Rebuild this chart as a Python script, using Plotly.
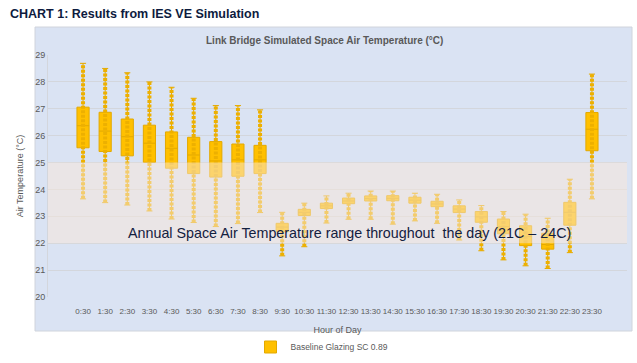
import plotly.graph_objects as go

hours = ["0:30", "1:30", "2:30", "3:30", "4:30", "5:30", "6:30", "7:30", "8:30", "9:30",
         "10:30", "11:30", "12:30", "13:30", "14:30", "15:30", "16:30", "17:30", "18:30",
         "19:30", "20:30", "21:30", "22:30", "23:30"]
q1 = [25.55, 25.41, 25.25, 25.01, 24.79, 24.59, 24.46, 24.49, 24.59, 22.43, 23.03, 23.29,
      23.47, 23.57, 23.58, 23.49, 23.36, 23.14, 22.78, 22.35, 21.91, 21.78, 22.67, 25.44]
median = [26.37, 26.17, 25.96, 25.72, 25.53, 25.28, 25.06, 25.10, 25.10, 22.60, 23.15, 23.39,
          23.57, 23.66, 23.67, 23.60, 23.46, 23.27, 22.98, 22.62, 22.25, 21.95, 23.15, 26.24]
q3 = [27.06, 26.87, 26.62, 26.39, 26.14, 25.94, 25.78, 25.69, 25.64, 22.74, 23.26, 23.49,
      23.68, 23.76, 23.77, 23.71, 23.56, 23.39, 23.18, 22.90, 22.65, 22.37, 23.52, 26.86]
maxs = [28.69, 28.50, 28.34, 28.00, 27.80, 27.39, 27.12, 27.12, 26.96, 23.15, 23.49, 23.76,
        23.86, 23.94, 23.94, 23.86, 23.82, 23.61, 23.40, 23.18, 23.08, 22.93, 24.38, 28.29]
mins = [23.65, 23.51, 23.42, 23.20, 22.90, 22.77, 22.62, 22.73, 23.14, 21.53, 21.87, 22.75,
        22.89, 22.89, 22.71, 22.83, 22.74, 22.12, 21.72, 21.38, 21.16, 21.06, 21.65, 23.65]
series_name = "Baseline Glazing SC 0.89"
band = [22, 25]
annotation_text = "Annual Space Air Temperature range throughout  the day (21C \u2013 24C)"

BASE = "Liberation Sans, Arial, sans-serif"

fig = go.Figure()

fig.add_trace(go.Box(
    x=hours, q1=q1, median=median, q3=q3, lowerfence=mins, upperfence=maxs,
    name=series_name, width=0.55,
    fillcolor="#FFC000", line=dict(color="#E3A900", width=1),
    showlegend=True,
))

# dotted data columns along the whiskers
dx, dy = [], []
for h, lo, hi in zip(hours, mins, maxs):
    dx += [h, h, None]
    dy += [lo, hi, None]
fig.add_trace(go.Scatter(
    x=dx, y=dy, mode="lines", showlegend=False, hoverinfo="skip",
    line=dict(color="#EDB000", width=4, dash="3px,1.5px"),
))

W, H = 637, 363
L, R, T, B = 48, 10, 55, 66
pw, ph = W - L - R, H - T - B

def px_x(p):
    return (p - L) / pw

def px_y(p):
    return (H - B - p) / ph

# blue chart area background
fig.add_shape(type="rect", xref="paper", yref="paper",
              x0=px_x(35), x1=px_x(632), y0=px_y(331), y1=px_y(27),
              fillcolor="#DAE3F3", line=dict(color="#D0D4DC", width=1), layer="below")

# comfort band overlay
fig.add_shape(type="rect", xref="paper", yref="y", x0=0, x1=1, y0=band[0], y1=band[1],
              fillcolor="rgb(249,231,218)", opacity=0.5, line=dict(width=0), layer="above")

fig.add_annotation(text=annotation_text, xref="paper", yref="y", x=px_x(349), y=22.38,
                   showarrow=False, xanchor="center", yanchor="middle",
                   font=dict(family=BASE, size=14.3, color="#13203F"))

fig.add_annotation(text="<b>CHART 1: Results from IES VE Simulation</b>", xref="paper", yref="paper",
                   x=px_x(8), y=px_y(14), showarrow=False, xanchor="left", yanchor="middle",
                   font=dict(family=BASE, size=12.5, color="#0D1B3E"))

fig.add_annotation(text="<b>Link Bridge Simulated Space Air Temperature (\u00b0C)</b>", xref="paper", yref="paper",
                   x=px_x(324), y=px_y(40), showarrow=False, xanchor="center", yanchor="middle",
                   font=dict(family=BASE, size=10, color="#595959"))

fig.update_layout(
    width=W, height=H,
    margin=dict(l=L, r=R, t=T, b=B, autoexpand=False),
    paper_bgcolor="white", plot_bgcolor="rgba(0,0,0,0)",
    font=dict(family=BASE, size=9, color="#595959"),
    showlegend=True,
    legend=dict(orientation="h", x=px_x(322), xanchor="center", y=px_y(347), yanchor="middle",
                bgcolor="rgba(0,0,0,0)", font=dict(size=8.5, color="#595959")),
    xaxis=dict(type="category", categoryorder="array", categoryarray=hours, automargin=False,
               tickangle=0,
               title=dict(text="Hour of Day", font=dict(size=9, color="#595959"), standoff=12),
               showgrid=False, showline=False, ticks="outside", ticklen=6,
               tickcolor="rgba(0,0,0,0)",
               tickfont=dict(family=BASE, size=8, color="#595959")),
    yaxis=dict(range=[20, 29], dtick=1, showgrid=True, gridcolor="#D3D6DC", gridwidth=1,
               automargin=False, zeroline=False, showline=True, linecolor="#D3D6DC",
               title=dict(text="Air Temperature (\u00b0C)", font=dict(size=9, color="#595959"), standoff=10),
               tickfont=dict(size=9, color="#595959")),
)

fig.write_html("out.html", config={"displayModeBar": False},
               post_script="document.body.style.margin='0';")
